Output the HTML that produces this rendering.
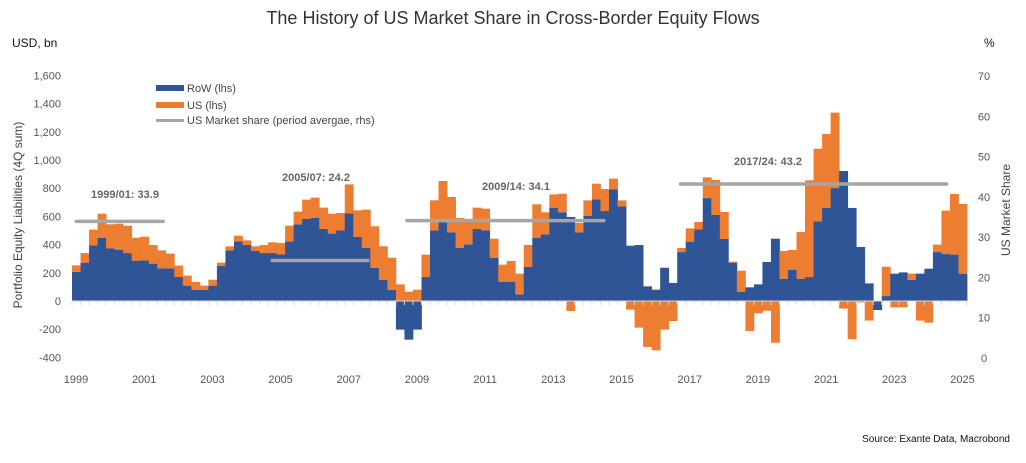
<!DOCTYPE html>
<html><head><meta charset="utf-8"><style>
body{margin:0;background:#fff;font-family:"Liberation Sans",sans-serif;}
svg text{font-family:"Liberation Sans",sans-serif;}
</style></head><body>
<svg id="chart" width="1026" height="458" xmlns="http://www.w3.org/2000/svg">
<text x="513" y="24" text-anchor="middle" font-size="18" fill="#333">The History of US Market Share in Cross-Border Equity Flows</text>
<text x="12" y="47" font-size="12" fill="#111">USD, bn</text>
<text x="984" y="47" font-size="12" fill="#111">%</text>
<text transform="translate(22,215) rotate(-90)" text-anchor="middle" font-size="12" fill="#444">Portfolio Equity Liabilities (4Q sum)</text>
<text transform="translate(1010,210) rotate(-90)" text-anchor="middle" font-size="12" fill="#444">US Market Share</text>
<g id="legend">
<rect x="156" y="85" width="28" height="6" fill="#2F5597"/>
<text x="187" y="92" font-size="11" fill="#444">RoW (lhs)</text>
<rect x="156" y="102" width="28" height="6" fill="#ED7D31"/>
<text x="187" y="109" font-size="11" fill="#444">US (lhs)</text>
<rect x="156" y="119" width="28" height="3" fill="#A5A5A5"/>
<text x="187" y="124" font-size="11" fill="#444">US Market share (period avergae, rhs)</text>
</g>
<g id="plot"></g>
<text x="1010" y="442" text-anchor="end" font-size="10" fill="#111">Source: Exante Data, Macrobond</text>
</svg>
<script>
const row = [206,272,395,449,374,364,340,286,288,265,232,232,170,109,80,80,109,248,359,423,397,355,340,340,330,423,544,582,589,511,478,501,622,454,376,236,151,80,-203,-274,-203,170,501,558,487,378,402,511,501,307,137,137,47,241,449,473,662,629,596,487,605,721,638,792,671,392,397,104,80,236,128,347,421,508,730,610,440,272,64,97,118,277,442,158,220,158,170,565,660,801,922,660,383,125,-64,35,194,203,149,194,229,347,333,329,194];
const us = [47,68,111,170,170,184,194,163,168,132,127,104,81,71,55,29,42,24,29,40,33,33,57,76,81,111,90,137,144,151,141,123,205,189,272,294,237,227,118,66,80,159,213,293,251,211,180,151,154,135,121,147,147,156,237,156,94,132,-71,66,109,111,156,76,43,-61,-189,-326,-350,-203,-142,29,94,52,147,248,191,7,151,-213,-87,-69,-296,197,142,331,686,515,524,535,-54,-272,-10,-139,0,208,-45,-45,45,-139,-154,53,308,430,494];
const yearLabels = ['1999','2001','2003','2005','2007','2009','2011','2013','2015','2017','2019','2021','2023','2025'];
const leftTicks = [-400,-200,0,200,400,600,800,1000,1200,1400,1600];
const rightTicks = [0,10,20,30,40,50,60,70];
const periodLabels = ['1999/01: 33.9','2005/07: 24.2','2009/14: 34.1','2017/24: 43.2'];
const periodValues = [33.9,24.2,34.1,43.2];
const periodStart = [0.5,23.5,39.3,71.4];
const periodEnd = [10.7,34.7,62.4,102.6];

const X0=72, BW=895/105;
const xq = i => X0 + i*BW;
const yL = v => 301 - v*0.141;
const yR = v => 358 - v*(282/70);
const xYear = y => X0 + (y-1999)*4*BW;
const ns="http://www.w3.org/2000/svg";
const plot=document.getElementById('plot');
function mk(tag,attrs){const e=document.createElementNS(ns,tag);for(const k in attrs)e.setAttribute(k,attrs[k]);plot.appendChild(e);return e;}
const fmt=v=>v.toLocaleString('en-US');
leftTicks.forEach(t=>{const e=mk('text',{x:61,y:yL(t)+4,'text-anchor':'end','font-size':11,fill:'#555'});e.textContent=fmt(t);

});
rightTicks.forEach(t=>{const e=mk('text',{x:984,y:yR(t)+4,'text-anchor':'middle','font-size':11,fill:'#555'});e.textContent=t;

});
for(let i=0;i<row.length;i++){
  let posBase=0,negBase=0;
  [[row[i],'#2F5597','bar-row'],[us[i],'#ED7D31','bar-us']].forEach(([v,c,n])=>{
    if(v===0)return;
    let y0,y1;
    if(v>0){y0=yL(posBase+v);y1=yL(posBase);posBase+=v;}else{y0=yL(negBase);y1=yL(negBase+v);negBase+=v;}
    const r=mk('rect',{x:xq(i),y:y0,width:BW+0.4,height:Math.max(0,y1-y0),fill:c});
    
    
  });
}
const ax=mk('line',{x1:X0,x2:xq(row.length),y1:yL(0),y2:yL(0),stroke:'#d9d9d9','stroke-width':1});


for(let i=0;i<=row.length;i++){const t=mk('line',{x1:xq(i),x2:xq(i),y1:yL(0),y2:yL(0)+4,stroke:'#d9d9d9'});

}
yearLabels.forEach(y=>{const e=mk('text',{x:xYear(+y)+4,y:383,'text-anchor':'middle','font-size':11,fill:'#555'});e.textContent=y;

});
const lblPos=[[125,198],[316,181],[516,190],[768,165]];
periodValues.forEach((v,k)=>{
  const l=mk('line',{x1:xq(periodStart[k]),x2:xq(periodEnd[k]),y1:yR(v),y2:yR(v),stroke:'#A5A5A5','stroke-width':3.5,'stroke-linecap':'round'});
  
  
  const t=mk('text',{x:lblPos[k][0],y:lblPos[k][1],'text-anchor':'middle','font-size':11,'font-weight':'bold',fill:'#666'});
  t.textContent=periodLabels[k];
  
  
});
</script>
</body></html>
